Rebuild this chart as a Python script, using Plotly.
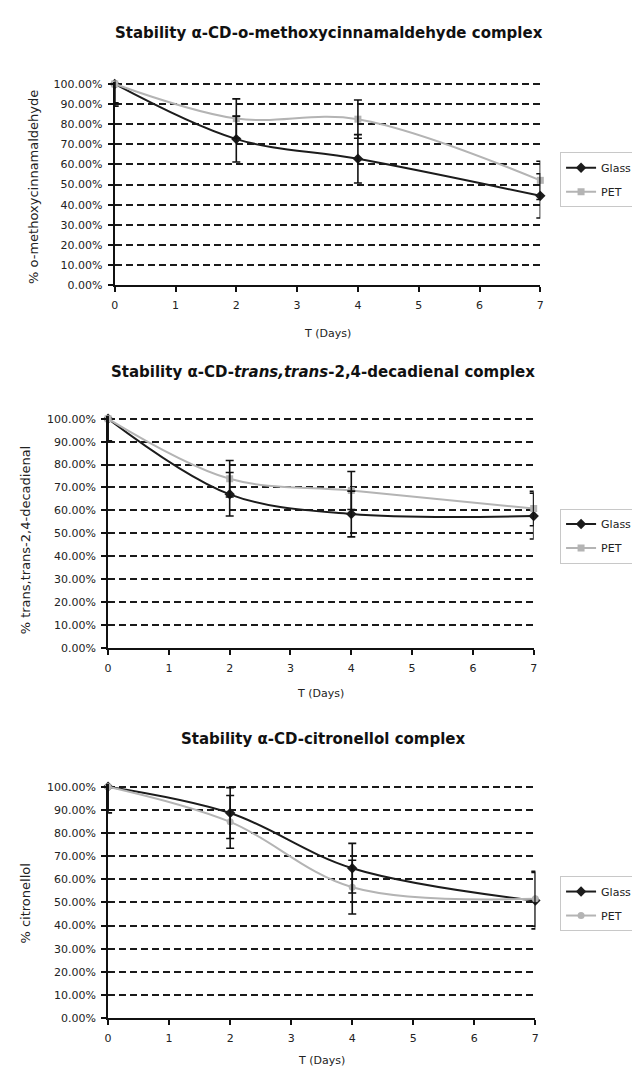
import plotly.graph_objects as go

days = [0, 2, 4, 7]
x_ticks = [0, 1, 2, 3, 4, 5, 6, 7]
y_ticks = [0.0, 0.1, 0.2, 0.3, 0.4, 0.5, 0.6, 0.7, 0.8, 0.9, 1.0]

series_names = ["Glass", "PET"]

# Chart 1: o-methoxycinnamaldehyde
c1_glass = [1.00, 0.726, 0.628, 0.444]
c1_glass_err = [0.110, 0.114, 0.120, 0.110]
c1_pet = [1.00, 0.828, 0.825, 0.521]
c1_pet_err = [0.094, 0.098, 0.095, 0.095]

# Chart 2: trans,trans-2,4-decadienal
c2_glass = [1.00, 0.670, 0.584, 0.575]
c2_glass_err = [0.096, 0.095, 0.100, 0.100]
c2_pet = [1.00, 0.738, 0.687, 0.608]
c2_pet_err = [0.096, 0.080, 0.083, 0.075]

# Chart 3: citronellol
c3_glass = [1.00, 0.886, 0.648, 0.508]
c3_glass_err = [0.100, 0.110, 0.107, 0.122]
c3_pet = [1.00, 0.848, 0.566, 0.516]
c3_pet_err = [0.113, 0.114, 0.116, 0.118]

titles = [
    "<b>Stability α-CD-o-methoxycinnamaldehyde complex</b>",
    "<b>Stability α-CD-<i>trans,trans</i>-2,4-decadienal complex</b>",
    "<b>Stability α-CD-citronellol complex</b>",
]
y_titles = ["% o-methoxycinnamaldehyde", "% trans,trans-2,4-decadienal", "% citronellol"]
x_title = "T (Days)"

W, H = 640, 1071
FONT = "DejaVu Sans, Verdana, sans-serif"
YTOP = 1.012  # small headroom so the 100% gridline is drawn

# pixel layout of each panel: (x_left, x_right, y_of_100pct, y_of_0pct)
panels = [
    (104, 535, 72.7, 276.0),
    (97.3, 528.3, 411.0, 642.3),
    (97.3, 530.0, 782.7, 1016.7),
]
title_pos = [(321, 21), (315, 364), (315, 735)]
ytitle_pos = [(21, 177), (14, 533), (14, 901)]
xtitle_y = [325, 689, 1059]
legend_top = [141.7, 501.7, 873.0]
pet_symbols = ["square", "square", "circle"]

data = [
    (c1_glass, c1_glass_err, c1_pet, c1_pet_err),
    (c2_glass, c2_glass_err, c2_pet, c2_pet_err),
    (c3_glass, c3_glass_err, c3_pet, c3_pet_err),
]

GLASS_C = "#1c1c1c"
PET_C = "#b4b4b4"

fig = go.Figure()
layout = {}
annotations = []

for i, (g, ge, p, pe) in enumerate(data):
    n = "" if i == 0 else str(i + 1)
    xa, ya = "x" + n, "y" + n
    lg = "legend" + n
    xl, xr, yt, yb = panels[i]
    s = yb - yt
    ytop_px = yt - (YTOP - 1.0) * s

    fig.add_trace(go.Scatter(
        x=days, y=g, name=series_names[0], xaxis=xa, yaxis=ya, legend=lg,
        mode="lines+markers", line=dict(color=GLASS_C, width=2, shape="spline"),
        marker=dict(symbol="diamond", size=8, color=GLASS_C),
        cliponaxis=False, legendgroup="g" + n,
    ))
    fig.add_trace(go.Scatter(
        x=days, y=p, name=series_names[1], xaxis=xa, yaxis=ya, legend=lg,
        mode="lines+markers", line=dict(color=PET_C, width=2, shape="spline"),
        marker=dict(symbol=pet_symbols[i], size=7, color=PET_C),
        cliponaxis=False, legendgroup="p" + n,
    ))
    for vals, errs in ((g, ge), (p, pe)):
        fig.add_trace(go.Scatter(
            x=days, y=vals, xaxis=xa, yaxis=ya, showlegend=False,
            mode="markers", marker=dict(size=1, color="rgba(0,0,0,0)"),
            error_y=dict(type="data", array=errs, visible=True,
                         color="#111111", thickness=1.6, width=4),
            cliponaxis=True, hoverinfo="skip",
        ))

    layout["xaxis" + n] = dict(
        domain=[xl / W, xr / W], anchor=ya, range=[0, 7],
        tickvals=x_ticks, ticktext=[str(t) for t in x_ticks],
        showline=True, linecolor="#111111", linewidth=2,
        ticks="outside", ticklen=5, tickwidth=1.5, tickcolor="#111111",
        showgrid=False, zeroline=False,
        tickfont=dict(family=FONT, size=11, color="#222222"),
        ticklabelstandoff=4,
    )
    layout["yaxis" + n] = dict(
        domain=[1 - yb / H, 1 - ytop_px / H], anchor=xa, range=[0, YTOP],
        tickvals=y_ticks, tickformat=".2%",
        showline=True, linecolor="#111111", linewidth=2,
        ticks="outside", ticklen=5, tickwidth=1.5, tickcolor="#111111",
        showgrid=True, gridcolor="#1a1a1a", gridwidth=2, griddash="7px,4px",
        zeroline=False,
        tickfont=dict(family=FONT, size=11, color="#222222"),
        ticklabelstandoff=3,
    )
    layout[lg] = dict(
        x=555 / W, y=1 - legend_top[i] / H, xanchor="left", yanchor="top",
        bordercolor="#c8c8c8", borderwidth=1, bgcolor="white",
        font=dict(family=FONT, size=11, color="#222222"),
        tracegroupgap=5, traceorder="grouped", itemwidth=30,
    )

    tx, ty = title_pos[i]
    annotations.append(dict(
        text=titles[i], x=tx / W, y=1 - ty / H, xref="paper", yref="paper",
        showarrow=False, xanchor="center", yanchor="middle",
        font=dict(family=FONT, size=15, color="#111111"),
    ))
    yx, yy = ytitle_pos[i]
    annotations.append(dict(
        text=y_titles[i], x=yx / W, y=1 - yy / H, xref="paper", yref="paper",
        showarrow=False, xanchor="center", yanchor="middle", textangle=-90,
        font=dict(family=FONT, size=13, color="#222222"),
    ))
    annotations.append(dict(
        text=x_title, x=((xl + xr) / 2) / W, y=1 - xtitle_y[i] / H,
        xref="paper", yref="paper", showarrow=False,
        xanchor="center", yanchor="middle",
        font=dict(family=FONT, size=11, color="#222222"),
    ))

fig.update_layout(
    width=W, height=H, margin=dict(l=0, r=0, t=0, b=0),
    paper_bgcolor="white", plot_bgcolor="white",
    annotations=annotations, **layout,
)

fig.write_html("out.html")
